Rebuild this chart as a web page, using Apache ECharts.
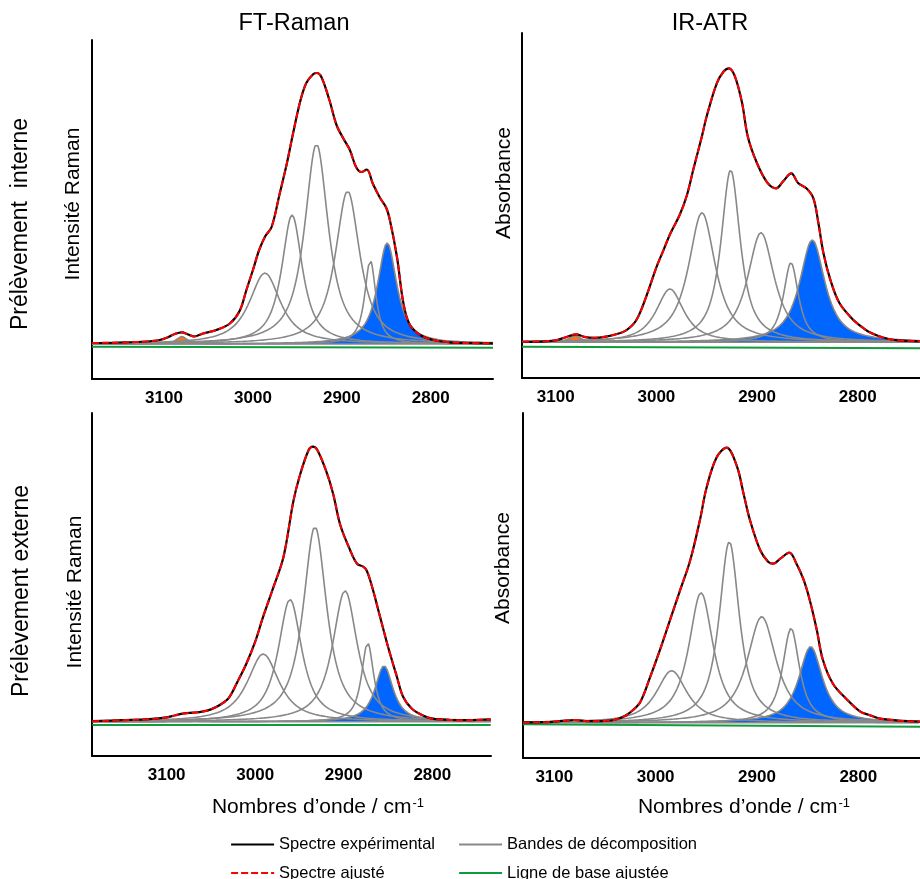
<!DOCTYPE html>
<html>
<head>
<meta charset="utf-8">
<script src="https://cdn.jsdelivr.net/npm/echarts@6/dist/echarts.min.js"></script>
<style>html,body{margin:0;padding:0;background:#fff}#c{width:920px;height:879px}</style>
</head>
<body>
<div id="c"></div>
<script>
// ================= DATA =================
const tickLabels = [3100, 3000, 2900, 2800];

// --- FT-Raman, prélèvement interne ---
const ramanIntWn = [3181,3150,3120,3105,3095,3088,3080,3073,3066,3056,3041,3026,3015,3007,3000,2993,2986,2979,2970,2962,2955,2947,2940,2932,2928,2923,2914,2906,2898,2891,2884,2878,2872,2865,2857,2850,2846,2838,2831,2824,2812,2797,2779,2760,2730];
const ramanIntI  = [1,1.5,2.5,4,7,10,11.7,9.5,7.5,10.5,14,20.5,33,55,74,94,108,117,150,180,210,242,261,270,271,267,244,219,205,194,177,172,174.5,160,146,136,124,87,42,20,9,4,1.7,1,0.7];
const ramanIntBandCenter = [3080, 2986.5, 2956, 2928.5, 2893.5, 2868, 2849];
const ramanIntBandHeight = [7.5, 71, 129, 200, 153, 84, 101];
const ramanIntBandWidth  = [14, 42, 28, 32, 33, 15, 26];
const ramanIntBaseWn = [3181, 2730];
const ramanIntBaseI  = [-2.7, -3.7];

// --- IR-ATR, prélèvement interne ---
const irIntWn = [3133,3110,3100,3090,3080,3072,3062,3050,3040,3030,3020,3010,3000,2993,2986,2977,2970,2963,2955,2950,2940,2933,2928,2922,2915,2909,2900,2890,2881,2874,2866,2859,2851,2844,2839,2834,2827,2818,2804,2798,2790,2780,2770,2760,2738];
const irIntI  = [0.5,1,2,5,8,5.5,4.5,5.7,8,12,22,46,75,92,109,127,146,174,205,226,259,271,274,266,240,205,179,160,154,161,169,159,154,144,119,89,62,39,22,17,11,6.5,3.5,2,1];
const irIntBandCenter = [3080.8, 2986.5, 2954.7, 2926.2, 2896.1, 2866.3, 2845.1];
const irIntBandHeight = [6.5, 53.3, 129.6, 172.3, 109.6, 79.6, 102.3];
const irIntBandWidth  = [14, 33, 32, 23, 32, 18, 30];
const irIntBaseWn = [3133.5, 2738];
const irIntBaseI  = [-4.4, -6];

// --- FT-Raman, prélèvement externe ---
const ramanExtWn = [3184,3150,3120,3100,3090,3080,3070,3060,3050,3040,3030,3020,3010,3000,2991,2980,2968,2957,2950,2940,2935,2930,2920,2912,2904,2893,2885,2878,2874,2868,2859,2850,2840,2833,2823,2810,2800,2780,2760,2734];
const ramanExtI  = [0.5,1.5,2.5,4.3,6.5,8.3,9,10,12.3,16.7,23.5,40,58,80,105,133,165,220,245,271,275,272,251,228,197,172,158,155,151,135,105,75,45,25,13,6,3,1.7,1.5,2.3];
const ramanExtBandCenter = [3083, 2990.9, 2960.7, 2932.5, 2898.6, 2873, 2854.5];
const ramanExtBandHeight = [3, 67.7, 122.4, 195, 131, 79, 56];
const ramanExtBandWidth  = [14, 43, 32, 32, 33.5, 16.6, 24.5];
const ramanExtBaseWn = [3184, 2734];
const ramanExtBaseI  = [-3.3, -3.3];

// --- IR-ATR, prélèvement externe ---
const irExtWn = [3131,3110,3095,3080,3065,3050,3040,3030,3022,3015,3006,2996,2986,2976,2966,2956,2950,2940,2930,2920,2913,2907,2897,2889,2884,2877,2868,2861,2854,2848,2841,2835,2825,2811,2798,2790,2780,2770,2760,2739];
const irExtI  = [0.3,0.5,1.5,2.7,1.5,1.8,3,7,13,21,44,72,102,132,162,204,234,265,275,257,228,203,173,161,159,164,170,159,143,123,93,63,39,23,11,8,4.5,3,2,1];
const irExtBandCenter = [3081, 2984.2, 2955.2, 2927.3, 2895.3, 2866.4, 2847];
const irExtBandHeight = [2, 52, 130, 181, 106, 94.4, 76];
const irExtBandWidth  = [14, 36, 29, 24, 34.5, 20, 28];
const irExtBaseWn = [3131, 2739];
const irExtBaseI  = [-1.5, -4];

// Lorentzian fraction of the pseudo-Voigt band profile
const bandLorentzFraction = 0.9;

// ================= LAYOUT / STYLE =================
const FONT = '"Liberation Sans", Arial, Helvetica, sans-serif';
const panels = [
  { wn: ramanIntWn, I: ramanIntI, bc: ramanIntBandCenter, bh: ramanIntBandHeight, bw: ramanIntBandWidth, baseWn: ramanIntBaseWn, baseI: ramanIntBaseI,
    grid: {left: 92, top: 40, width: 401, height: 339}, xMin: 2730, xMax: 3181, yMin: -35, yMax: 304 },
  { wn: irIntWn, I: irIntI, bc: irIntBandCenter, bh: irIntBandHeight, bw: irIntBandWidth, baseWn: irIntBaseWn, baseI: irIntBaseI,
    grid: {left: 522, top: 33, width: 398, height: 345}, xMin: 2738.1, xMax: 3133.5, yMin: -35.7, yMax: 309.3 },
  { wn: ramanExtWn, I: ramanExtI, bc: ramanExtBandCenter, bh: ramanExtBandHeight, bw: ramanExtBandWidth, baseWn: ramanExtBaseWn, baseI: ramanExtBaseI,
    grid: {left: 92, top: 413, width: 399, height: 343}, xMin: 2733.7, xMax: 3184.3, yMin: -34.3, yMax: 308.7 },
  { wn: irExtWn, I: irExtI, bc: irExtBandCenter, bh: irExtBandHeight, bw: irExtBandWidth, baseWn: irExtBaseWn, baseI: irExtBaseI,
    grid: {left: 523, top: 413, width: 397, height: 345}, xMin: 2739.1, xMax: 3130.9, yMin: -35.3, yMax: 309.7 }
];

const GRAY = '#888888', BLUE = '#0066ff', ORANGE = '#ff7417', GREEN = '#109a3c', RED = '#ff0000';

function pseudoVoigt(x, c, h, w) {
  const d = 2 * (x - c) / w;
  const L = 1 / (1 + d * d);
  const G = Math.exp(-Math.LN2 * d * d);
  return h * (bandLorentzFraction * L + (1 - bandLorentzFraction) * G);
}

const grids = [], xAxes = [], yAxes = [], series = [];
const fillSeries = [];
panels.forEach((p, i) => {
  grids.push(Object.assign({containLabel: false}, p.grid));
  xAxes.push({
    type: 'value', gridIndex: i, inverse: true, min: p.xMin, max: p.xMax,
    axisLine: {show: true, onZero: false, lineStyle: {color: '#000', width: 2}},
    axisTick: {show: false},
    splitLine: {show: false},
    axisLabel: {customValues: tickLabels, formatter: v => String(v), color: '#000', fontWeight: 'bold',
                fontSize: 17, fontFamily: FONT, margin: 11}
  });
  yAxes.push({
    type: 'value', gridIndex: i, min: p.yMin, max: p.yMax,
    axisLine: {show: true, onZero: false, lineStyle: {color: '#000', width: 2}},
    axisTick: {show: false}, axisLabel: {show: false}, splitLine: {show: false}
  });
  // sampling grid for the band profiles (the library places each point through its axes)
  const xs = [];
  for (let x = Math.ceil(p.xMin); x <= Math.floor(p.xMax); x += 1) xs.push(x);
  const nb = p.bc.length;
  for (let j = 0; j < nb; j++) {
    const data = xs.map(x => [x, pseudoVoigt(x, p.bc[j], p.bh[j], p.bw[j])]);
    const filled = (j === 0 || j === nb - 1);
    const s = {
      type: 'line', name: 'Bandes de décomposition', xAxisIndex: i, yAxisIndex: i,
      data, symbol: 'none', showSymbol: false, smooth: false, animation: false, silent: true,
      lineStyle: {color: GRAY, width: 1.6}, itemStyle: {color: GRAY}, z: filled ? 1 : 2
    };
    if (filled) {
      s.areaStyle = {color: j === 0 ? ORANGE : BLUE, opacity: 1, origin: 'auto'};
      fillSeries.push(s);
    } else {
      series.push(s);
    }
  }
  series.push({
    type: 'line', name: 'Ligne de base ajustée', xAxisIndex: i, yAxisIndex: i,
    data: p.baseWn.map((x, k) => [x, p.baseI[k]]), symbol: 'none', showSymbol: false, animation: false, silent: true,
    lineStyle: {color: GREEN, width: 2}, itemStyle: {color: GREEN}, z: 3
  });
  const spec = p.wn.map((x, k) => [x, p.I[k]]);
  series.push({
    type: 'line', name: 'Spectre expérimental', xAxisIndex: i, yAxisIndex: i,
    data: spec, symbol: 'none', showSymbol: false, smooth: 0.35, animation: false, silent: true,
    lineStyle: {color: '#000', width: 2.2}, itemStyle: {color: '#000'}, z: 4
  });
  // the fitted spectrum coincides with the experimental one in the reference
  series.push({
    type: 'line', name: 'Spectre ajusté', xAxisIndex: i, yAxisIndex: i,
    data: spec, symbol: 'none', showSymbol: false, smooth: 0.35, animation: false, silent: true,
    lineStyle: {color: RED, width: 2, type: [7, 3]}, itemStyle: {color: RED}, z: 5
  });
});
const allSeries = series.concat(fillSeries);

function txt(x, y, text, size, opts) {
  return Object.assign({
    type: 'text', x, y, silent: true,
    style: Object.assign({text, fill: '#000', font: size + 'px ' + FONT,
      align: 'center', verticalAlign: 'middle', textAlign: 'center', textVerticalAlign: 'middle'}, (opts && opts.style) || {})
  }, (opts && opts.el) || {});
}
const ROT = Math.PI / 2;
const xName = {
  rich: {a: {fontSize: 21, fontFamily: FONT, fill: '#000', color: '#000'},
         s: {fontSize: 13, fontFamily: FONT, fill: '#000', color: '#000', verticalAlign: 'top', padding: [0, 0, 0, 1]}}
};
const graphics = [
  txt(294, 24, 'FT-Raman', 23.5),
  txt(710, 24, 'IR-ATR', 23.5),
  txt(21, 224, 'Prélèvement  interne', 23, {el: {rotation: ROT}}),
  txt(22, 591, 'Prélèvement externe', 23, {el: {rotation: ROT}}),
  txt(73, 204, 'Intensité Raman', 21, {el: {rotation: ROT}}),
  txt(75, 592, 'Intensité Raman', 21, {el: {rotation: ROT}}),
  txt(504, 183, 'Absorbance', 21, {el: {rotation: ROT}}),
  txt(503, 568, 'Absorbance', 21, {el: {rotation: ROT}}),
  txt(318, 807, '{a|Nombres d’onde / cm}{s|-1}', 21, {style: xName}),
  txt(744, 807, '{a|Nombres d’onde / cm}{s|-1}', 21, {style: xName})
];

function legendItem(name, left, top) {
  return {
    orient: 'vertical', padding: 0, itemWidth: 43, itemHeight: 14, left, top,
    selectedMode: false, data: [name],
    lineStyle: {width: 2.2},
    itemStyle: {opacity: 0},
    textStyle: {fontSize: 16.5, fontFamily: FONT, color: '#000'}
  };
}

const option = {
  backgroundColor: '#fff',
  animation: false,
  grid: grids,
  xAxis: xAxes,
  yAxis: yAxes,
  legend: [
    legendItem('Spectre expérimental', 230, 836),
    legendItem('Spectre ajusté', 230, 864.5),
    legendItem('Bandes de décomposition', 458, 836),
    legendItem('Ligne de base ajustée', 458, 864.5)
  ],
  graphic: graphics,
  series: allSeries
};

const chart = echarts.init(document.getElementById('c'), null, {renderer: 'canvas'});
chart.setOption(option);
</script>
</body>
</html>
